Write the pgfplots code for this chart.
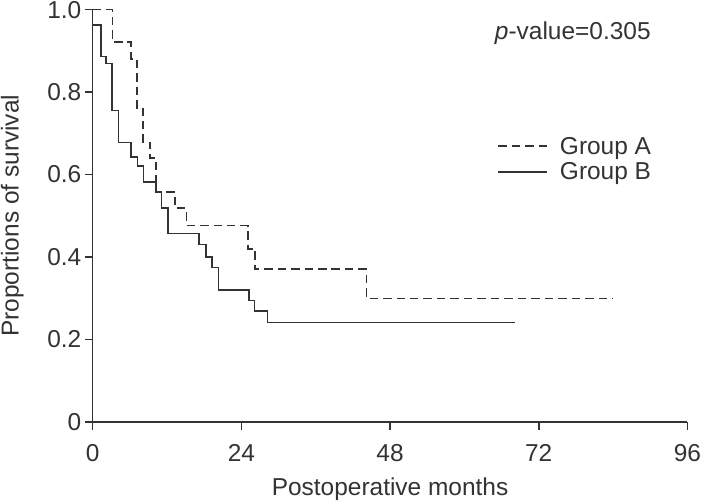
\documentclass[border=0pt]{standalone}
\usepackage{fontspec}
\setmainfont{Liberation Sans}
\usepackage{pgfplots}
\pgfplotsset{compat=1.18}
\definecolor{ink}{HTML}{333333}
\newcommand{\chartfont}{\fontsize{24.5}{29}\selectfont}
\begin{document}
\begin{tikzpicture}
\begin{axis}[
  scale only axis,
  width=596pt, height=413pt,
  xmin=0, xmax=96, ymin=0, ymax=1,
  axis lines=left,
  axis line style={-, line width=1.6pt, ink},
  every tick/.style={line width=1.6pt, ink},
  tick align=outside,
  major tick length=8pt,
  xtick={0,24,48,72,96},
  xticklabels={0,24,48,72,96},
  ytick={0,0.2,0.4,0.6,0.8,1.0},
  yticklabels={0,0.2,0.4,0.6,0.8,1.0},
  /pgf/number format/assume math mode=true,
  tick label style={font=\chartfont, text=ink, inner sep=1pt},
  yticklabel style={xshift=-2.2pt},
  xticklabel style={yshift=-13.2pt},
  label style={font=\chartfont, text=ink, inner sep=1pt},
  xlabel={Postoperative months},
  ylabel={Proportions of survival},
  xlabel shift=14.4pt,
  ylabel shift=21.4pt,
  legend style={draw=none, fill=none, at={(axis cs:65.3,0.694)}, anchor=north west,
    inner sep=0pt, row sep=5pt, column sep=11pt, font=\chartfont, text=ink,
    nodes={inner sep=1pt}},
  legend cell align=left,
  legend image code/.code={\draw[#1] (0pt,0pt) -- (49pt,0pt);},
  clip=false,
]
\addplot[const plot, line width=1.7pt, ink, dash pattern=on 8.5pt off 5pt] coordinates {
(0,1.0) (3.2,0.921) (6.17,0.88) (7.14,0.759) (8.16,0.678) (9.24,0.64) (10.2,0.558)
(13.3,0.518) (15.15,0.476) (25.1,0.42) (26.2,0.37) (44.2,0.299) (83.9,0.299)
};
\addlegendentry{Group A}
\addplot[const plot, line width=1.7pt, ink] coordinates {
(0,0.963) (1.32,0.886) (2.13,0.869) (3.1,0.755) (4.17,0.678) (6.17,0.643) (7.24,0.621)
(8.19,0.581) (10.2,0.559) (11.1,0.518) (12.15,0.457) (17.2,0.43) (18.3,0.399)
(19.3,0.374) (20.3,0.319) (25.2,0.294) (26.1,0.268) (28.2,0.241) (68.1,0.241)
};
\addlegendentry{Group B}
\node[font=\chartfont, text=ink] at (axis cs:77.5,0.942) {\textit{p}-value=0.305};
\end{axis}
\end{tikzpicture}
\end{document}
